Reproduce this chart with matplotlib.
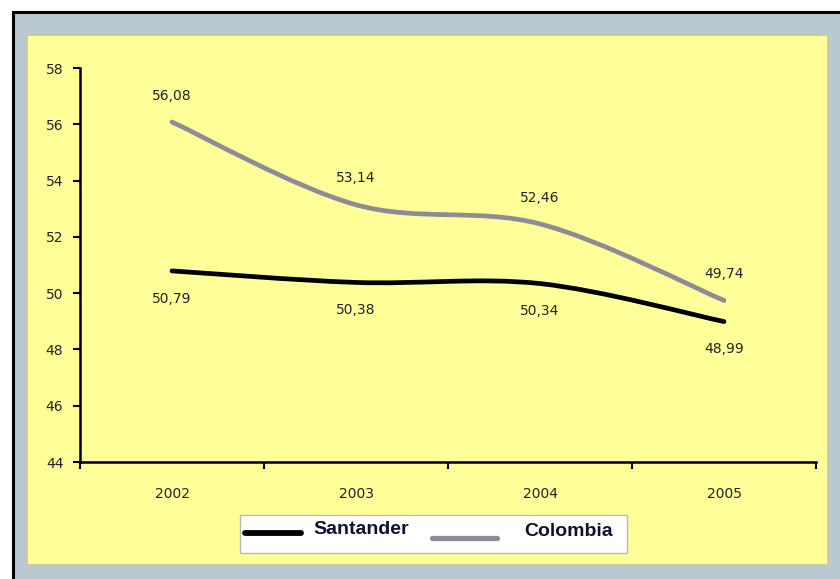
import numpy as np
import matplotlib.pyplot as plt
from matplotlib.patches import Rectangle
from matplotlib.path import Path
from matplotlib.patches import PathPatch
from matplotlib.lines import Line2D

years = ['2002', '2003', '2004', '2005']
santander = [50.79, 50.38, 50.34, 48.99]
colombia = [56.08, 53.14, 52.46, 49.74]
santander_lbl = ['50,79', '50,38', '50,34', '48,99']
colombia_lbl = ['56,08', '53,14', '52,46', '49,74']
yticks = [44, 46, 48, 50, 52, 54, 56, 58]

W, H = 840, 579
fig = plt.figure(figsize=(W / 100, H / 100), dpi=100)
fig.patch.set_facecolor('white')

def fx(px):
    return px / W

def fy(py):
    return 1 - py / H

# frame: black border, grey band, yellow chart area
fig.patches.append(Rectangle((fx(13), -0.1), 1.2, fy(12) + 0.1, transform=fig.transFigure,
                             facecolor='#BAC8D0', edgecolor='black', lw=2.2, zorder=0))
fig.patches.append(Rectangle((fx(27), fy(565)), fx(828) - fx(27), fy(35) - fy(565),
                             transform=fig.transFigure, facecolor='#FFFF99',
                             edgecolor='#C9C4A8', lw=1.2, zorder=0))

ax = fig.add_axes([fx(80), fy(462), fx(816) - fx(80), fy(68) - fy(462)])
ax.set_facecolor('none')
ax.set_zorder(5)

def smooth_path(xs, ys):
    # Excel-style smoothed line as cubic bezier segments
    pts = np.column_stack([xs, ys]).astype(float)
    n = len(pts)
    verts = [pts[0]]
    codes = [Path.MOVETO]
    for i in range(n - 1):
        p0 = pts[i - 1] if i > 0 else pts[i]
        p1 = pts[i]
        p2 = pts[i + 1]
        p3 = pts[i + 2] if i + 2 < n else pts[i + 1]
        c1 = p1 + (p2 - p0) / 6
        c2 = p2 - (p3 - p1) / 6
        verts += [c1, c2, p2]
        codes += [Path.CURVE4] * 3
    return Path(verts, codes)

x = np.arange(len(years))
ax.add_patch(PathPatch(smooth_path(x, colombia), facecolor='none',
                       edgecolor='#8C8C96', lw=3.4, capstyle='round', zorder=3))
ax.add_patch(PathPatch(smooth_path(x, santander), facecolor='none',
                       edgecolor='black', lw=3.4, capstyle='round', zorder=3))

lbl_font = dict(fontsize=10, color='#222222', family='DejaVu Sans')
for xi, v, t in zip(x, colombia, colombia_lbl):
    ax.annotate(t, (xi, v), xytext=(0, 19), textcoords='offset points',
                ha='center', va='center', **lbl_font)
for xi, v, t in zip(x, santander, santander_lbl):
    ax.annotate(t, (xi, v), xytext=(0, -20), textcoords='offset points',
                ha='center', va='center', **lbl_font)

ax.set_xlim(-0.5, len(years) - 0.5)
ax.set_ylim(44, 58)
ax.set_yticks(yticks)
ax.set_yticklabels([str(v) for v in yticks], **lbl_font)
ax.set_xticks(x)
ax.set_xticklabels(years, **lbl_font)
ax.tick_params(axis='x', length=0, pad=18)
ax.set_xticks(np.arange(-0.5, len(years)), minor=True)
ax.tick_params(axis='x', which='minor', length=5, width=1.5, direction='out', color='black')
ax.tick_params(axis='y', length=5, width=1.5, direction='out', color='black', pad=7)
for s in ['top', 'right']:
    ax.spines[s].set_visible(False)
for s in ['left', 'bottom']:
    ax.spines[s].set_linewidth(1.8)
    ax.spines[s].set_color('black')

# legend box
fig.patches.append(Rectangle((fx(240), fy(553)), fx(627) - fx(240), fy(515) - fy(553),
                             transform=fig.transFigure, facecolor='white',
                             edgecolor='#B8B8B8', lw=1, zorder=2))
fig.lines.append(Line2D([fx(245), fx(301)], [fy(533), fy(533)], transform=fig.transFigure,
                        color='black', lw=4.2, solid_capstyle='round', zorder=3))
fig.lines.append(Line2D([fx(432), fx(497)], [fy(538), fy(538)], transform=fig.transFigure,
                        color='#8C8C96', lw=3.8, solid_capstyle='round', zorder=3))
fig.text(fx(313), fy(534), 'Santander', ha='left', va='baseline', fontsize=14,
         fontweight='bold', color='#101030', family='Liberation Sans', zorder=4)
fig.text(fx(524), fy(536), 'Colombia', ha='left', va='baseline', fontsize=14,
         fontweight='bold', color='#101030', family='Liberation Sans', zorder=4)

fig.savefig('out.png', dpi=100, facecolor=fig.get_facecolor())
